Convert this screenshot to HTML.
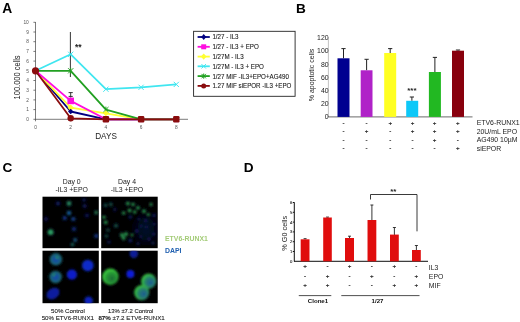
<!DOCTYPE html>
<html><head><meta charset="utf-8">
<style>
html,body{margin:0;padding:0;background:#fff;}
body{width:520px;height:322px;overflow:hidden;}
svg{display:block;font-family:"Liberation Sans",sans-serif;}
</style></head><body>
<svg width="520" height="322" viewBox="0 0 520 322">
<defs>
<filter id="b1" x="-50%" y="-50%" width="200%" height="200%"><feGaussianBlur stdDeviation="1.0"/></filter>
<filter id="b2" x="-50%" y="-50%" width="200%" height="200%"><feGaussianBlur stdDeviation="1.3"/></filter>
<filter id="b3" x="-100%" y="-100%" width="300%" height="300%"><feGaussianBlur stdDeviation="4"/></filter>
<filter id="soft"><feGaussianBlur stdDeviation="0.45"/></filter>
<clipPath id="c1"><rect x="42.5" y="196.7" width="56.3" height="51.5"/></clipPath>
<clipPath id="c2"><rect x="101.2" y="196.7" width="56.5" height="51.5"/></clipPath>
<clipPath id="c3"><rect x="42.5" y="250.7" width="56.3" height="52.5"/></clipPath>
<clipPath id="c4"><rect x="101.2" y="250.7" width="56.5" height="52.5"/></clipPath>
<radialGradient id="gcell" cx="0.56" cy="0.56" r="0.62" fx="0.6" fy="0.62"><stop offset="0" stop-color="#1c6c34"/><stop offset="0.55" stop-color="#289a36"/><stop offset="0.85" stop-color="#3ccc3e"/><stop offset="1" stop-color="#2a982e"/></radialGradient>
<radialGradient id="gbcell" cx="0.58" cy="0.56" r="0.62" fx="0.64" fy="0.6"><stop offset="0" stop-color="#1d5a98"/><stop offset="0.5" stop-color="#267e6a"/><stop offset="0.85" stop-color="#38bc42"/><stop offset="1" stop-color="#28942e"/></radialGradient>
<radialGradient id="tcell"><stop offset="0" stop-color="#1040b8"/><stop offset="0.55" stop-color="#15588c"/><stop offset="1" stop-color="#186c6c"/></radialGradient>
</defs>
<rect width="520" height="322" fill="#fff"/>
<g filter="url(#soft)">
<!-- ================= PANEL A ================= -->
<g id="panelA">
<text x="2.3" y="13" font-size="13.8" font-weight="bold" fill="#000">A</text>
<g stroke="#444" stroke-width="0.7" fill="none">
<line x1="35.5" y1="22.0" x2="35.5" y2="119.6"/>
<line x1="35.5" y1="119.3" x2="188" y2="119.3"/>
<path d="M33.4 119.3h2.1M33.4 109.6h2.1M33.4 99.9h2.1M33.4 90.2h2.1M33.4 80.5h2.1M33.4 70.8h2.1M33.4 61.1h2.1M33.4 51.4h2.1M33.4 41.7h2.1M33.4 32.0h2.1M33.4 22.3h2.1"/>
<path d="M35.5 119.3v2M70.7 119.3v2M105.9 119.3v2M141.1 119.3v2M176.3 119.3v2"/>
</g>
<g font-size="4.8" fill="#555" text-anchor="end"><text x="28.8" y="24.0">10</text><text x="28.8" y="33.7">9</text><text x="28.8" y="43.4">8</text><text x="28.8" y="53.1">7</text><text x="28.8" y="62.8">6</text><text x="28.8" y="72.5">5</text><text x="28.8" y="82.2">4</text><text x="28.8" y="91.9">3</text><text x="28.8" y="101.6">2</text><text x="28.8" y="111.3">1</text><text x="28.8" y="121.0">0</text></g>
<g font-size="4.8" fill="#555" text-anchor="middle"><text x="35.5" y="129.4">0</text><text x="70.7" y="129.4">2</text><text x="105.9" y="129.4">4</text><text x="141.1" y="129.4">6</text><text x="176.3" y="129.4">8</text></g>
<text transform="translate(20.2,77.4) rotate(-90)" font-size="8.8" fill="#222" text-anchor="middle" textLength="44" lengthAdjust="spacingAndGlyphs">100.000 cells</text>
<text x="106" y="139.2" font-size="8.2" fill="#222" text-anchor="middle">DAYS</text>
<line x1="70.4" y1="32" x2="70.4" y2="77" stroke="#222" stroke-width="0.9"/>
<text x="78.2" y="49.6" font-size="8.5" font-weight="bold" fill="#222" text-anchor="middle">**</text>
<g fill="none" stroke-width="1.8" stroke-linejoin="round">
<polyline stroke="#40e6f0" points="35.5,70.8 70.7,54.3 105.9,89.2 141.1,87.3 176.3,84.4"/>
<polyline stroke="#000080" points="35.5,70.8 70.7,111.5 105.9,119.3 141.1,119.3 176.3,119.3"/>
<polyline stroke="#ffff30" points="35.5,70.8 70.7,107.7 105.9,113.3 141.1,119.3 176.3,119.3"/>
<polyline stroke="#ff10e0" points="35.5,70.8 70.7,100.9 105.9,119.3 141.1,119.3 176.3,119.3"/>
<polyline stroke="#20a020" points="35.5,70.8 70.7,70.8 105.9,109.6 141.1,119.3 176.3,119.3"/>
<polyline stroke="#8a0a10" points="35.5,70.8 70.7,118.3 105.9,119.3 141.1,119.3 176.3,119.3"/>
</g>
<path stroke="#40e6f0" stroke-width="1" fill="none" d="M68.1 51.7l5.2 5.2M73.3 51.7l-5.2 5.2M103.3 86.6l5.2 5.2M108.5 86.6l-5.2 5.2M138.5 84.7l5.2 5.2M143.7 84.7l-5.2 5.2M173.7 81.8l5.2 5.2M178.9 81.8l-5.2 5.2"/>
<path stroke="#20a020" stroke-width="1" fill="none" d="M68.1 68.2l5.2 5.2M73.3 68.2l-5.2 5.2M70.7 67.8v6.0M103.3 107.0l5.2 5.2M108.5 107.0l-5.2 5.2M105.9 106.6v6.0"/>
<path d="M70.7 92.6v5M68.6 92.6h4.2M68.6 96.4h4.2" stroke="#222" stroke-width="0.9" fill="none"/>
<path d="M105.9 110.3l3 3-3 3-3-3z" fill="#ffff30"/>
<rect x="67.4" y="97.60000000000001" width="6.6" height="6.6" fill="#ff10e0"/>
<path d="M70.7 104.5l3.2 3.2-3.2 3.2-3.2-3.2z" fill="#ffff30"/>
<path d="M70.7 108.7l2.7 2.8-2.7 2.8-2.7-2.8z" fill="#000080"/>
<g fill="#8a0a10">
<circle cx="35.5" cy="70.8" r="3.6"/><circle cx="70.7" cy="118.3" r="3.2"/>
<rect x="102.7" y="116.1" width="6.4" height="6.4" rx="1.2"/><rect x="137.9" y="116.1" width="6.4" height="6.4" rx="1.2"/><rect x="173.1" y="116.1" width="6.4" height="6.4" rx="1.2"/>
</g>
<!-- legend -->
<rect x="193.6" y="31.3" width="101.5" height="65" fill="#fff" stroke="#222" stroke-width="0.9"/>
<g stroke-width="1.8">
<line x1="197.6" y1="37.0" x2="209.8" y2="37.0" stroke="#000080"/>
<line x1="197.6" y1="46.8" x2="209.8" y2="46.8" stroke="#ff10e0"/>
<line x1="197.6" y1="56.6" x2="209.8" y2="56.6" stroke="#ffff30"/>
<line x1="197.6" y1="66.3" x2="209.8" y2="66.3" stroke="#40e6f0"/>
<line x1="197.6" y1="76.1" x2="209.8" y2="76.1" stroke="#20a020"/>
<line x1="197.6" y1="85.9" x2="209.8" y2="85.9" stroke="#8a0a10"/>
</g>
<path d="M203.7 34.0l2.5 3-2.5 3-2.5-3z" fill="#000080"/>
<rect x="201.2" y="44.3" width="5" height="5" fill="#ff10e0"/>
<path d="M203.7 53.5l2.8 3.1-2.8 3.1-2.8-3.1z" fill="#ffff30"/>
<path d="M201.5 64.1l4.4 4.4M205.9 64.1l-4.4 4.4" stroke="#40e6f0" stroke-width="1"/>
<path d="M201.5 73.9l4.4 4.4M205.9 73.9l-4.4 4.4M203.7 73.5v5.2" stroke="#20a020" stroke-width="1"/>
<circle cx="203.7" cy="85.9" r="2.5" fill="#8a0a10"/>
<g font-size="6.9" fill="#1a1a1a" stroke="#1a1a1a" stroke-width="0.1" transform="translate(212.4,0) scale(0.9,1)">
<text x="0" y="39.5">1/27 - IL3</text>
<text x="0" y="49.3">1/27 - IL3 + EPO</text>
<text x="0" y="59.1">1/27M - IL3</text>
<text x="0" y="68.9">1/27M - IL3 + EPO</text>
<text x="0" y="78.7">1/27 MIF -IL3+EPO+AG490</text>
<text x="0" y="88.5">1.27 MIF siEPOR -IL3 +EPO</text>
</g>
</g>
<!-- ================= PANEL B ================= -->
<g id="panelB">
<text x="296" y="13" font-size="13.6" font-weight="bold" fill="#000">B</text>
<g fill="none">
<line x1="328.4" y1="37.3" x2="328.4" y2="117" stroke="#999" stroke-width="0.6"/>
<line x1="328" y1="116.9" x2="472.5" y2="116.9" stroke="#444" stroke-width="0.8"/>
</g>
<g font-size="6.9" fill="#222" text-anchor="end">
<text x="328.6" y="40.1">120</text><text x="328.6" y="53.3">100</text><text x="328.6" y="66.5">80</text><text x="328.6" y="79.7">60</text><text x="328.6" y="92.9">40</text><text x="328.6" y="106.1">20</text><text x="328.6" y="119.3">0</text>
</g>
<text transform="translate(314.4,75) rotate(-90)" font-size="7" fill="#222" text-anchor="middle">% apoptotic cells</text>
<g stroke="#222" stroke-width="1" fill="none">
<path d="M343.5 58.3V48.6M341.4 48.6h4.2"/>
<path d="M366.6 70.3V59.3M364.5 59.3h4.2"/>
<path d="M390.2 53.0V48.6M388.1 48.6h4.2"/>
<path d="M411.9 100.8V97.0M409.8 97.0h4.2"/>
<path d="M434.9 72.0V57.4M432.8 57.4h4.2"/>
<path d="M458.0 50.7V50.0M455.9 50.0h4.2"/>
</g>
<rect x="337.5" y="58.3" width="12.0" height="58.6" fill="#000090"/>
<rect x="360.7" y="70.3" width="11.8" height="46.6" fill="#b020c8"/>
<rect x="384.2" y="53.0" width="12.0" height="63.9" fill="#ffff20"/>
<rect x="406.2" y="100.8" width="12" height="16.1" fill="#10c8f8"/>
<rect x="428.9" y="72.0" width="12.0" height="44.9" fill="#20b820"/>
<rect x="452.0" y="50.7" width="12.0" height="66.2" fill="#880008"/>
<text x="411.9" y="93" font-size="8" font-weight="bold" fill="#222" text-anchor="middle">***</text>
<g font-size="6.2" fill="#222" stroke="#222" stroke-width="0.2" text-anchor="middle">
<text x="343.5" y="124.7">-</text><text x="366.6" y="124.7">-</text><text x="390.2" y="124.7">+</text><text x="412.5" y="124.7">+</text><text x="434.6" y="124.7">+</text><text x="457.8" y="124.7">+</text>
<text x="343.5" y="133.2">-</text><text x="366.6" y="133.2">+</text><text x="390.2" y="133.2">-</text><text x="412.5" y="133.2">+</text><text x="434.6" y="133.2">+</text><text x="457.8" y="133.2">+</text>
<text x="343.5" y="141.6">-</text><text x="366.6" y="141.6">-</text><text x="390.2" y="141.6">-</text><text x="412.5" y="141.6">-</text><text x="434.6" y="141.6">+</text><text x="457.8" y="141.6">-</text>
<text x="343.5" y="149.9">-</text><text x="366.6" y="149.9">-</text><text x="390.2" y="149.9">-</text><text x="412.5" y="149.9">-</text><text x="434.6" y="149.9">-</text><text x="457.8" y="149.9">+</text>
</g>
<g font-size="6.9" fill="#222">
<text x="476.7" y="125.4">ETV6-RUNX1</text>
<text x="476.7" y="134">20U/mL EPO</text>
<text x="476.7" y="142.4">AG490 10µM</text>
<text x="476.7" y="150.6">siEPOR</text>
</g>
</g>
<!-- ================= PANEL C ================= -->
<g id="panelC">
<text x="2.4" y="171.7" font-size="13.6" font-weight="bold" fill="#000">C</text>
<g font-size="6.9" fill="#222" text-anchor="middle">
<text x="71.7" y="183.8">Day 0</text><text x="71.7" y="192.3">-IL3 +EPO</text>
<text x="127" y="183.8">Day 4</text><text x="127" y="192.3">-IL3 +EPO</text>
</g>
<rect x="42.5" y="196.7" width="56.3" height="51.5" fill="#010205"/>
<rect x="101.2" y="196.7" width="56.5" height="51.5" fill="#010206"/>
<rect x="42.5" y="250.7" width="56.3" height="52.5" fill="#010203"/>
<rect x="101.2" y="250.7" width="56.5" height="52.5" fill="#010203"/>
<!-- image 1 cells -->
<g clip-path="url(#c1)"><g filter="url(#b1)">
<circle cx="69" cy="203.5" r="2.4" fill="#247b59"/>
<circle cx="58" cy="203.5" r="1.9" fill="#101a60"/>
<circle cx="84" cy="200" r="1.6" fill="#101a60"/><circle cx="84.7" cy="206" r="1.8" fill="#121e67"/>
<circle cx="96.2" cy="212.5" r="1.9" fill="#1f6844"/>
<circle cx="69" cy="213" r="2.2" fill="#175790"/>
<circle cx="64.7" cy="218" r="2" fill="#123389"/>
<circle cx="73.3" cy="219" r="2.1" fill="#123d89"/>
<circle cx="46" cy="219" r="1.8" fill="#0f1859"/>
<circle cx="87" cy="215.5" r="1.8" fill="#0f1859"/>
<circle cx="50.6" cy="232.2" r="2.9" fill="#299760"/>
<circle cx="74" cy="229" r="2" fill="#11297b"/>
<circle cx="96.3" cy="236" r="2" fill="#123382"/>
<circle cx="75.2" cy="240" r="2" fill="#164f74"/><circle cx="72.4" cy="244.5" r="1.8" fill="#165952"/>
</g></g>
<!-- image 2 cells -->
<g clip-path="url(#c2)"><g filter="url(#b3)"><ellipse cx="146" cy="229" rx="9" ry="12" fill="#050a28"/></g></g>
<g clip-path="url(#c2)"><g filter="url(#b1)">
<g fill="#0c144c"><circle cx="153.9" cy="224" r="1.6"/><circle cx="146.4" cy="227" r="1.6"/><circle cx="141" cy="236.5" r="1.6"/><circle cx="153" cy="243" r="1.6"/><circle cx="138" cy="243.5" r="1.6"/><circle cx="114.8" cy="209.6" r="1.5"/><circle cx="109" cy="242" r="1.5"/><circle cx="139" cy="219" r="1.5"/></g>
<g fill="#228244">
<circle cx="127.9" cy="203.5" r="1.9"/><circle cx="133" cy="204.4" r="1.8"/><circle cx="138" cy="207.8" r="1.9"/><circle cx="129.6" cy="210.4" r="2"/><circle cx="123.6" cy="213" r="1.8"/><circle cx="134.7" cy="212" r="1.8"/><circle cx="144" cy="211.2" r="2"/><circle cx="148.3" cy="214.6" r="1.7"/><circle cx="151" cy="204.4" r="1.6"/>
<circle cx="104" cy="217.2" r="1.7"/><circle cx="105.7" cy="222.3" r="1.9"/>
<circle cx="121.9" cy="235.1" r="2.1"/><circle cx="126" cy="234.2" r="2.1"/><circle cx="123.6" cy="238" r="2.1"/><circle cx="132" cy="235" r="1.4"/>
</g>
<g fill="#144b44"><circle cx="105.7" cy="205.2" r="1.8"/><circle cx="110.8" cy="204.4" r="1.8"/><circle cx="116" cy="225.7" r="2"/><circle cx="108" cy="230" r="1.6"/><circle cx="106.5" cy="236" r="1.6"/></g>
<g fill="#0d1652"><circle cx="130.4" cy="217" r="1.8"/><circle cx="145.8" cy="220.6" r="1.8"/><circle cx="137" cy="231" r="2"/><circle cx="154" cy="215.5" r="1.8"/><circle cx="153.5" cy="234" r="1.8"/><circle cx="130.4" cy="240.5" r="2"/><circle cx="149" cy="239" r="1.8"/><circle cx="141" cy="226" r="1.6"/></g>
</g></g>
<!-- image 3 cells -->
<g clip-path="url(#c3)"><g filter="url(#b2)">
<circle cx="55.9" cy="259.3" r="6.2" fill="url(#tcell)"/>
<circle cx="87.8" cy="265.5" r="5.8" fill="#102bc9"/>
<circle cx="55.6" cy="277" r="6.2" fill="url(#tcell)"/>
<circle cx="57" cy="257.6" r="1.6" fill="#258a64"/><circle cx="54" cy="275" r="1.4" fill="#258a64"/>
<circle cx="71.9" cy="274.6" r="5.1" fill="#0e1cc9"/>
<ellipse cx="53" cy="293.6" rx="7" ry="5.2" transform="rotate(-35 53 293.6)" fill="#0d1b9e"/>
<circle cx="88.6" cy="300.6" r="4.2" fill="#0e24bb"/>
</g></g>
<!-- image 4 cells -->
<g clip-path="url(#c4)"><g filter="url(#b2)">
<circle cx="133.8" cy="253.8" r="4.2" fill="#0e1c97"/>
<circle cx="110.4" cy="276.8" r="8.2" fill="url(#gcell)"/>
<circle cx="130.4" cy="274" r="4" fill="#0e1cd8"/>
<circle cx="148.6" cy="281.2" r="7.6" fill="url(#gbcell)"/>
<circle cx="141.7" cy="292.6" r="7.6" fill="url(#gbcell)"/>
</g></g>
<text x="165" y="241.3" font-size="6.9" font-weight="bold" fill="#a4cc78">ETV6-RUNX1</text>
<text x="165" y="253" font-size="6.9" font-weight="bold" fill="#2060b0">DAPI</text>
<g font-size="6.15" fill="#222" stroke="#222" stroke-width="0.1" text-anchor="middle">
<text x="68" y="313">50% Control</text>
<text x="67.8" y="319.7">50% ETV6-RUNX1</text>
<text x="130.7" y="313" font-size="5.9">13% ±7.2 Control</text>
<text x="131.6" y="319.7" font-size="6.2"><tspan font-weight="bold">87%</tspan> ±7.2 ETV6-RUNX1</text>
</g>
</g>
<!-- ================= PANEL D ================= -->
<g id="panelD">
<text x="243.7" y="171.8" font-size="13.6" font-weight="bold" fill="#000">D</text>
<g stroke="#111" stroke-width="1" fill="none">
<line x1="294.3" y1="202.3" x2="294.3" y2="261.5"/>
<line x1="294" y1="261.3" x2="428" y2="261.3"/>
<path d="M292.8 202.5h1.5M292.8 212.3h1.5M292.8 222.1h1.5M292.8 231.9h1.5M292.8 241.7h1.5M292.8 251.5h1.5"/>
</g>
<g font-size="4.2" fill="#222" text-anchor="end" stroke="#222" stroke-width="0.1">
<text x="292.3" y="203.9">6</text><text x="292.3" y="213.7">5</text><text x="292.3" y="223.5">4</text><text x="292.3" y="233.3">3</text><text x="292.3" y="243.1">2</text><text x="292.3" y="252.9">1</text><text x="292.3" y="262.7">0</text>
</g>
<text transform="translate(287.3,233.3) rotate(-90)" font-size="7.3" fill="#222" text-anchor="middle">% G0 cells</text>
<g stroke="#222" stroke-width="0.9" fill="none">
<path d="M305.1 239.3v-0.6M303.6 238.7h3"/>
<path d="M327.5 217.5v-0.4M326 217.1h3"/>
<path d="M349.5 238v-1.8M348 236.2h3"/>
<path d="M371.9 220v-15M370.4 205h3"/>
<path d="M394.4 235v-7.5M392.9 227.5h3"/>
<path d="M416.4 250v-4.5M414.9 245.5h3"/>
<path d="M370.5 199.5V194.5H417V231.3"/>
</g>
<g fill="#e01010">
<rect x="300.7" y="239.3" width="8.8" height="22"/>
<rect x="323.2" y="217.5" width="8.6" height="43.8"/>
<rect x="345" y="238" width="9" height="23.3"/>
<rect x="367.5" y="220" width="8.8" height="41.3"/>
<rect x="390" y="234.6" width="8.8" height="26.7"/>
<rect x="412" y="250" width="8.8" height="11.3"/>
</g>
<text x="393.3" y="194.4" font-size="8" font-weight="bold" fill="#222" text-anchor="middle">**</text>
<g font-size="6.2" fill="#222" stroke="#222" stroke-width="0.2" text-anchor="middle">
<text x="305.1" y="268.4">+</text><text x="327.5" y="268.4">-</text><text x="349.5" y="268.4">+</text><text x="371.9" y="268.4">-</text><text x="394.4" y="268.4">+</text><text x="416.4" y="268.4">-</text>
<text x="305.1" y="277.9">-</text><text x="327.5" y="277.9">+</text><text x="349.5" y="277.9">-</text><text x="371.9" y="277.9">+</text><text x="394.4" y="277.9">-</text><text x="416.4" y="277.9">+</text>
<text x="305.1" y="287.2">+</text><text x="327.5" y="287.2">+</text><text x="349.5" y="287.2">-</text><text x="371.9" y="287.2">-</text><text x="394.4" y="287.2">+</text><text x="416.4" y="287.2">+</text>
</g>
<g font-size="6.9" fill="#222">
<text x="428.8" y="269.5">IL3</text><text x="428.8" y="279">EPO</text><text x="428.8" y="288.3">MIF</text>
</g>
<g stroke="#222" stroke-width="0.8"><line x1="298.8" y1="295.6" x2="331.3" y2="295.6"/><line x1="341.3" y1="295.6" x2="419.5" y2="295.6"/></g>
<g font-size="6.1" font-weight="bold" fill="#111" text-anchor="middle">
<text x="318" y="303.4">Clone1</text><text x="377.5" y="303.4">1/27</text>
</g>
</g>
</g>
</svg>
</body></html>
